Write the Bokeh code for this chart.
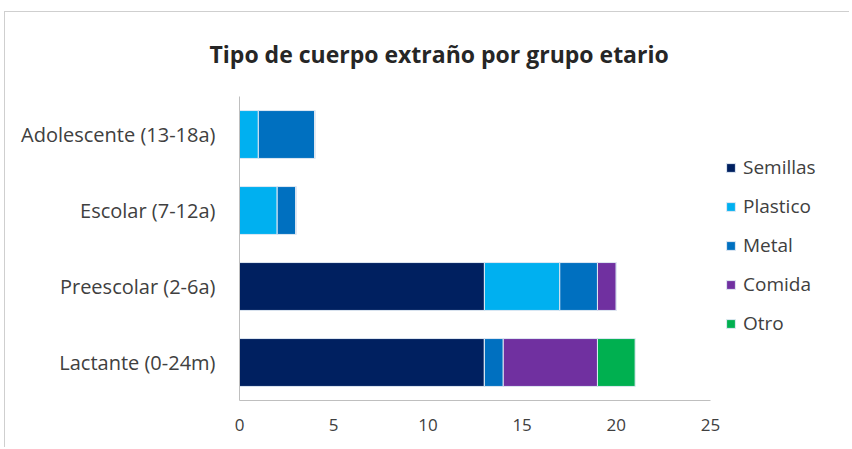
from bokeh.plotting import figure
from bokeh.models import Legend, LegendItem, FactorRange
from bokeh.embed import file_html
from bokeh.resources import INLINE

groups = ["Lactante (0-24m)", "Preescolar (2-6a)", "Escolar (7-12a)", "Adolescente (13-18a)"]
series = ["Semillas", "Plastico", "Metal", "Comida", "Otro"]
semillas = [13, 13, 0, 0]
plastico = [0, 4, 2, 1]
metal = [1, 2, 1, 3]
comida = [5, 1, 0, 0]
otro = [2, 0, 0, 0]
colors = ["#002060", "#00B0F0", "#0070C0", "#7030A0", "#00B050"]
x_ticks = [0, 5, 10, 15, 20, 25]

data = dict(groups=groups, Semillas=semillas, Plastico=plastico, Metal=metal,
            Comida=comida, Otro=otro)

FONT = "Open Sans"

# frame extends right to hold the legend; axis line limited to 0..25
x_end = 25 * (849 - 238) / (709 - 238)

p = figure(y_range=FactorRange(*groups, range_padding=0), x_range=(0, x_end),
           width=845, height=436, output_backend="svg", toolbar_location=None,
           min_border_left=234, min_border_right=0, min_border_top=78,
           min_border_bottom=48)

rs = p.hbar_stack(series, y="groups", height=0.63, color=colors, source=data,
                  line_color="#dfe8f3", line_width=1)

p.title.text = "Tipo de cuerpo extraño por grupo etario"
p.title.align = "left"
p.title.vertical_align = "top"
p.title.text_font = FONT
p.title.text_font_size = "23px"
p.title.text_font_style = "bold"
p.title.text_color = "#262626"
p.title.offset = -30
p.title.standoff = 50

p.xgrid.grid_line_color = None
p.ygrid.grid_line_color = None
p.outline_line_color = None

p.xaxis.ticker = x_ticks
p.xaxis.bounds = (0, 25)
p.xaxis.axis_line_color = "#bfbfbf"
p.yaxis.axis_line_color = "#bfbfbf"
for ax in (p.xaxis, p.yaxis):
    ax.major_tick_line_color = None
    ax.minor_tick_line_color = None
    ax.major_label_text_font = FONT
    ax.major_label_text_color = "#404040"
p.xaxis.major_label_text_font_size = "17px"
p.yaxis.major_label_text_font_size = "20px"
p.xaxis.major_label_standoff = 12
p.yaxis.major_label_standoff = 18

legend = Legend(items=[LegendItem(label=s, renderers=[r]) for s, r in zip(series, rs)],
                location=(486, 64), glyph_width=11, glyph_height=11,
                label_height=20, spacing=13, padding=0, margin=0,
                label_text_font=FONT, label_text_font_size="19px",
                label_text_color="#404040", border_line_color=None,
                background_fill_alpha=0, label_standoff=7)
p.add_layout(legend, "center")

p.styles = {"margin-left": "4px", "margin-top": "11px",
            "border-left": "1px solid #cfcfcf", "border-top": "1px solid #cfcfcf"}

open("out.html", "w").write(file_html(p, INLINE))
